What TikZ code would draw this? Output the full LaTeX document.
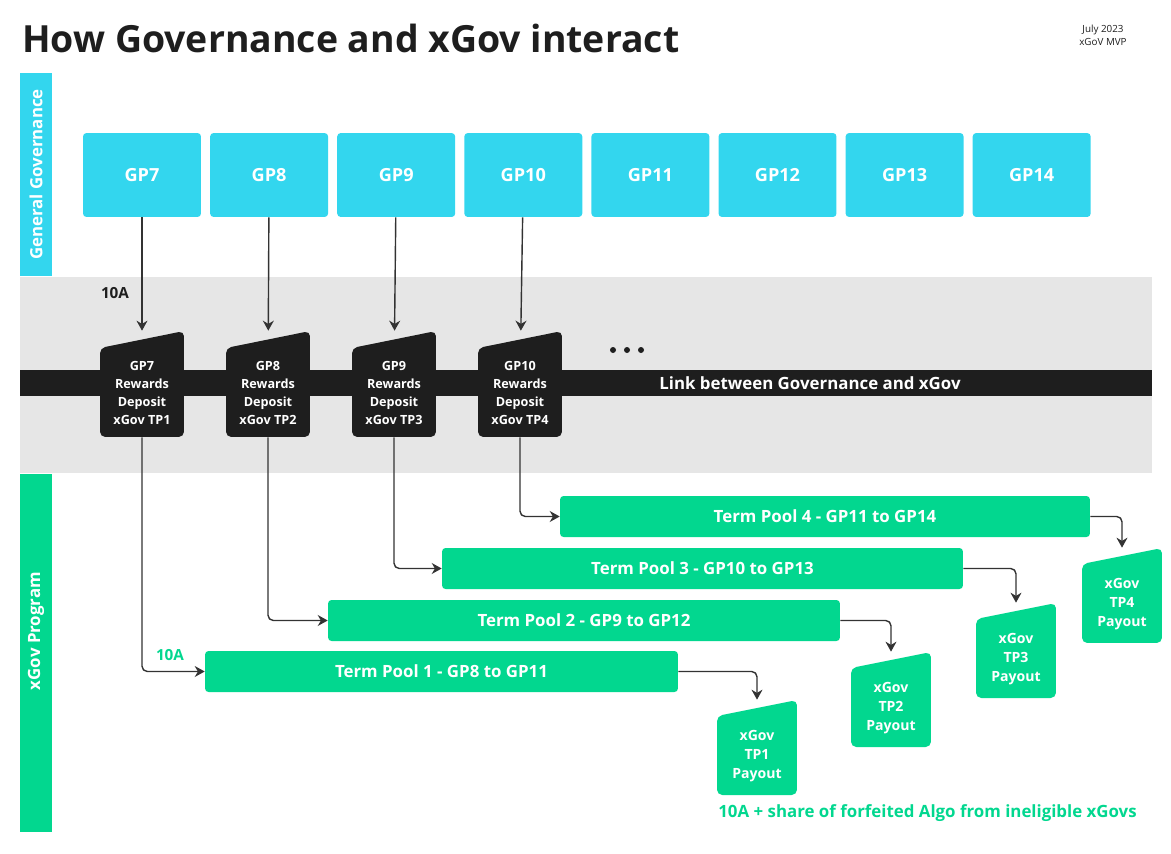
\documentclass[tikz,border=0pt]{standalone}
\usepackage{fontspec}
\setmainfont{Open Sans}
\usetikzlibrary{positioning, arrows.meta, calc}
\definecolor{govCyan}{HTML}{33D6EE}
\definecolor{govGreen}{HTML}{02D78F}
\definecolor{govBand}{HTML}{E6E6E6}
\definecolor{govBlack}{HTML}{1E1E1E}
\definecolor{govArrow}{HTML}{333333}

\begin{document}
\begin{tikzpicture}[
  x=0.02cm, y=-0.02cm,
  gp/.style={fill=govCyan, rounded corners=2pt, minimum width=2.36cm, minimum height=1.68cm, text=white, font=\bfseries\fontsize{10.3}{12}\selectfont},
  pool/.style={fill=govGreen, rounded corners=2pt, minimum height=0.82cm, inner sep=0pt, text=white, font=\bfseries\fontsize{9.6}{11}\selectfont},
  side/.style={rotate=90, inner sep=0pt, text=white, font=\bfseries\fontsize{9.6}{11}\selectfont},
  deptext/.style={text=white, align=center, font=\bfseries\fontsize{7.2}{10.2}\selectfont, yshift=-0.18cm},
  paytext/.style={text=white, align=center, font=\bfseries\fontsize{8}{11}\selectfont, yshift=-0.17cm},
  deposit/.style={minimum width=1.68cm, minimum height=2.12cm, inner sep=0pt,
    path picture={\fill[govBlack, rounded corners=3pt] ([yshift=-0.34cm]path picture bounding box.north west) -- (path picture bounding box.north east) -- (path picture bounding box.south east) -- (path picture bounding box.south west) -- cycle;},
    label={[deptext]center:#1}},
  payout/.style={minimum width=1.6cm, minimum height=1.9cm, inner sep=0pt,
    path picture={\fill[govGreen, rounded corners=3pt] ([yshift=-0.32cm]path picture bounding box.north west) -- (path picture bounding box.north east) -- (path picture bounding box.south east) -- (path picture bounding box.south west) -- cycle;},
    label={[paytext]center:#1}},
  arr/.style={-{Stealth[length=2mm, width=2.2mm]}, govArrow, line width=0.8pt, rounded corners=3pt}
]
\useasboundingbox (0,0) rectangle (1171,853);

\node[anchor=base west, text=govBlack, font=\bfseries\fontsize{21.3}{25}\selectfont, inner sep=0pt] (title) at (22,52) {How Governance and xGov interact};
\node[align=center, text=govBlack, font=\fontsize{5.6}{7.4}\selectfont] (date) at (1103,35) {July 2023\\xGoV MVP};

\fill[govBand] (20,277) rectangle (1152,473);
\fill[govBlack] (20,370) rectangle (1152,396);
\node[text=white, font=\bfseries\fontsize{9.6}{12}\selectfont] (link) at (810,383) {Link between Governance and xGov};

\fill[govCyan] (20,73) rectangle (52,276);
\fill[govGreen] (20,474) rectangle (52,832);
\node[side] (sidegov) at (36,174.5) {General Governance};
\node[side] (sidex) at (36,631) {xGov Program};

\foreach \n [count=\i from 0] in {7,...,14}
  \node[gp] (g\n) at ({142+127.1*\i},175) {GP\n};

\node[deposit={GP7\\Rewards\\Deposit\\xGov TP1}] (d7) at (142,384) {};
\node[deposit={GP8\\Rewards\\Deposit\\xGov TP2}] (d8) at (268,384) {};
\node[deposit={GP9\\Rewards\\Deposit\\xGov TP3}] (d9) at (394,384) {};
\node[deposit={GP10\\Rewards\\Deposit\\xGov TP4}] (d10) at (520,384) {};

\foreach \x in {613,627,641}
  \fill[govBlack] (\x,350) circle (0.06cm);

\node[pool, minimum width=10.6cm] (tp4) at (825,516.5) {Term Pool 4 - GP11 to GP14};
\node[pool, minimum width=10.42cm] (tp3) at (702.5,568.5) {Term Pool 3 - GP10 to GP13};
\node[pool, minimum width=10.24cm] (tp2) at (584,620.5) {Term Pool 2 - GP9 to GP12};
\node[pool, minimum width=9.46cm] (tp1) at (441.5,671.5) {Term Pool 1 - GP8 to GP11};

\node[payout={xGov\\TP1\\Payout}] (p1) at (757,747.5) {};
\node[payout={xGov\\TP2\\Payout}] (p2) at (891,699.5) {};
\node[payout={xGov\\TP3\\Payout}] (p3) at (1016,650.5) {};
\node[payout={xGov\\TP4\\Payout}] (p4) at (1122,595.5) {};

\node[text=govBlack, font=\bfseries\fontsize{8.7}{10}\selectfont] (tenA) at (115,293) {10A};
\node[text=govGreen, font=\bfseries\fontsize{8.7}{10}\selectfont] (tenB) at (170,655) {10A};
\node[anchor=west, inner sep=0pt, text=govGreen, font=\bfseries\fontsize{9.6}{11}\selectfont] (share) at (718,813) {10A + share of forfeited Algo from ineligible xGovs};

\draw[arr] (g7) -- (d7);
\draw[arr] (g8) -- (d8);
\draw[arr] (g9) -- (d9);
\draw[arr] (g10) -- (d10);

\draw[arr] (d7) |- (tp1);
\draw[arr] (d8) |- (tp2);
\draw[arr] (d9) |- (tp3);
\draw[arr] (d10) |- (tp4);

\draw[arr] (tp1) -| (p1);
\draw[arr] (tp2) -| (p2);
\draw[arr] (tp3) -| (p3);
\draw[arr] (tp4) -| (p4);
\end{tikzpicture}
\end{document}
